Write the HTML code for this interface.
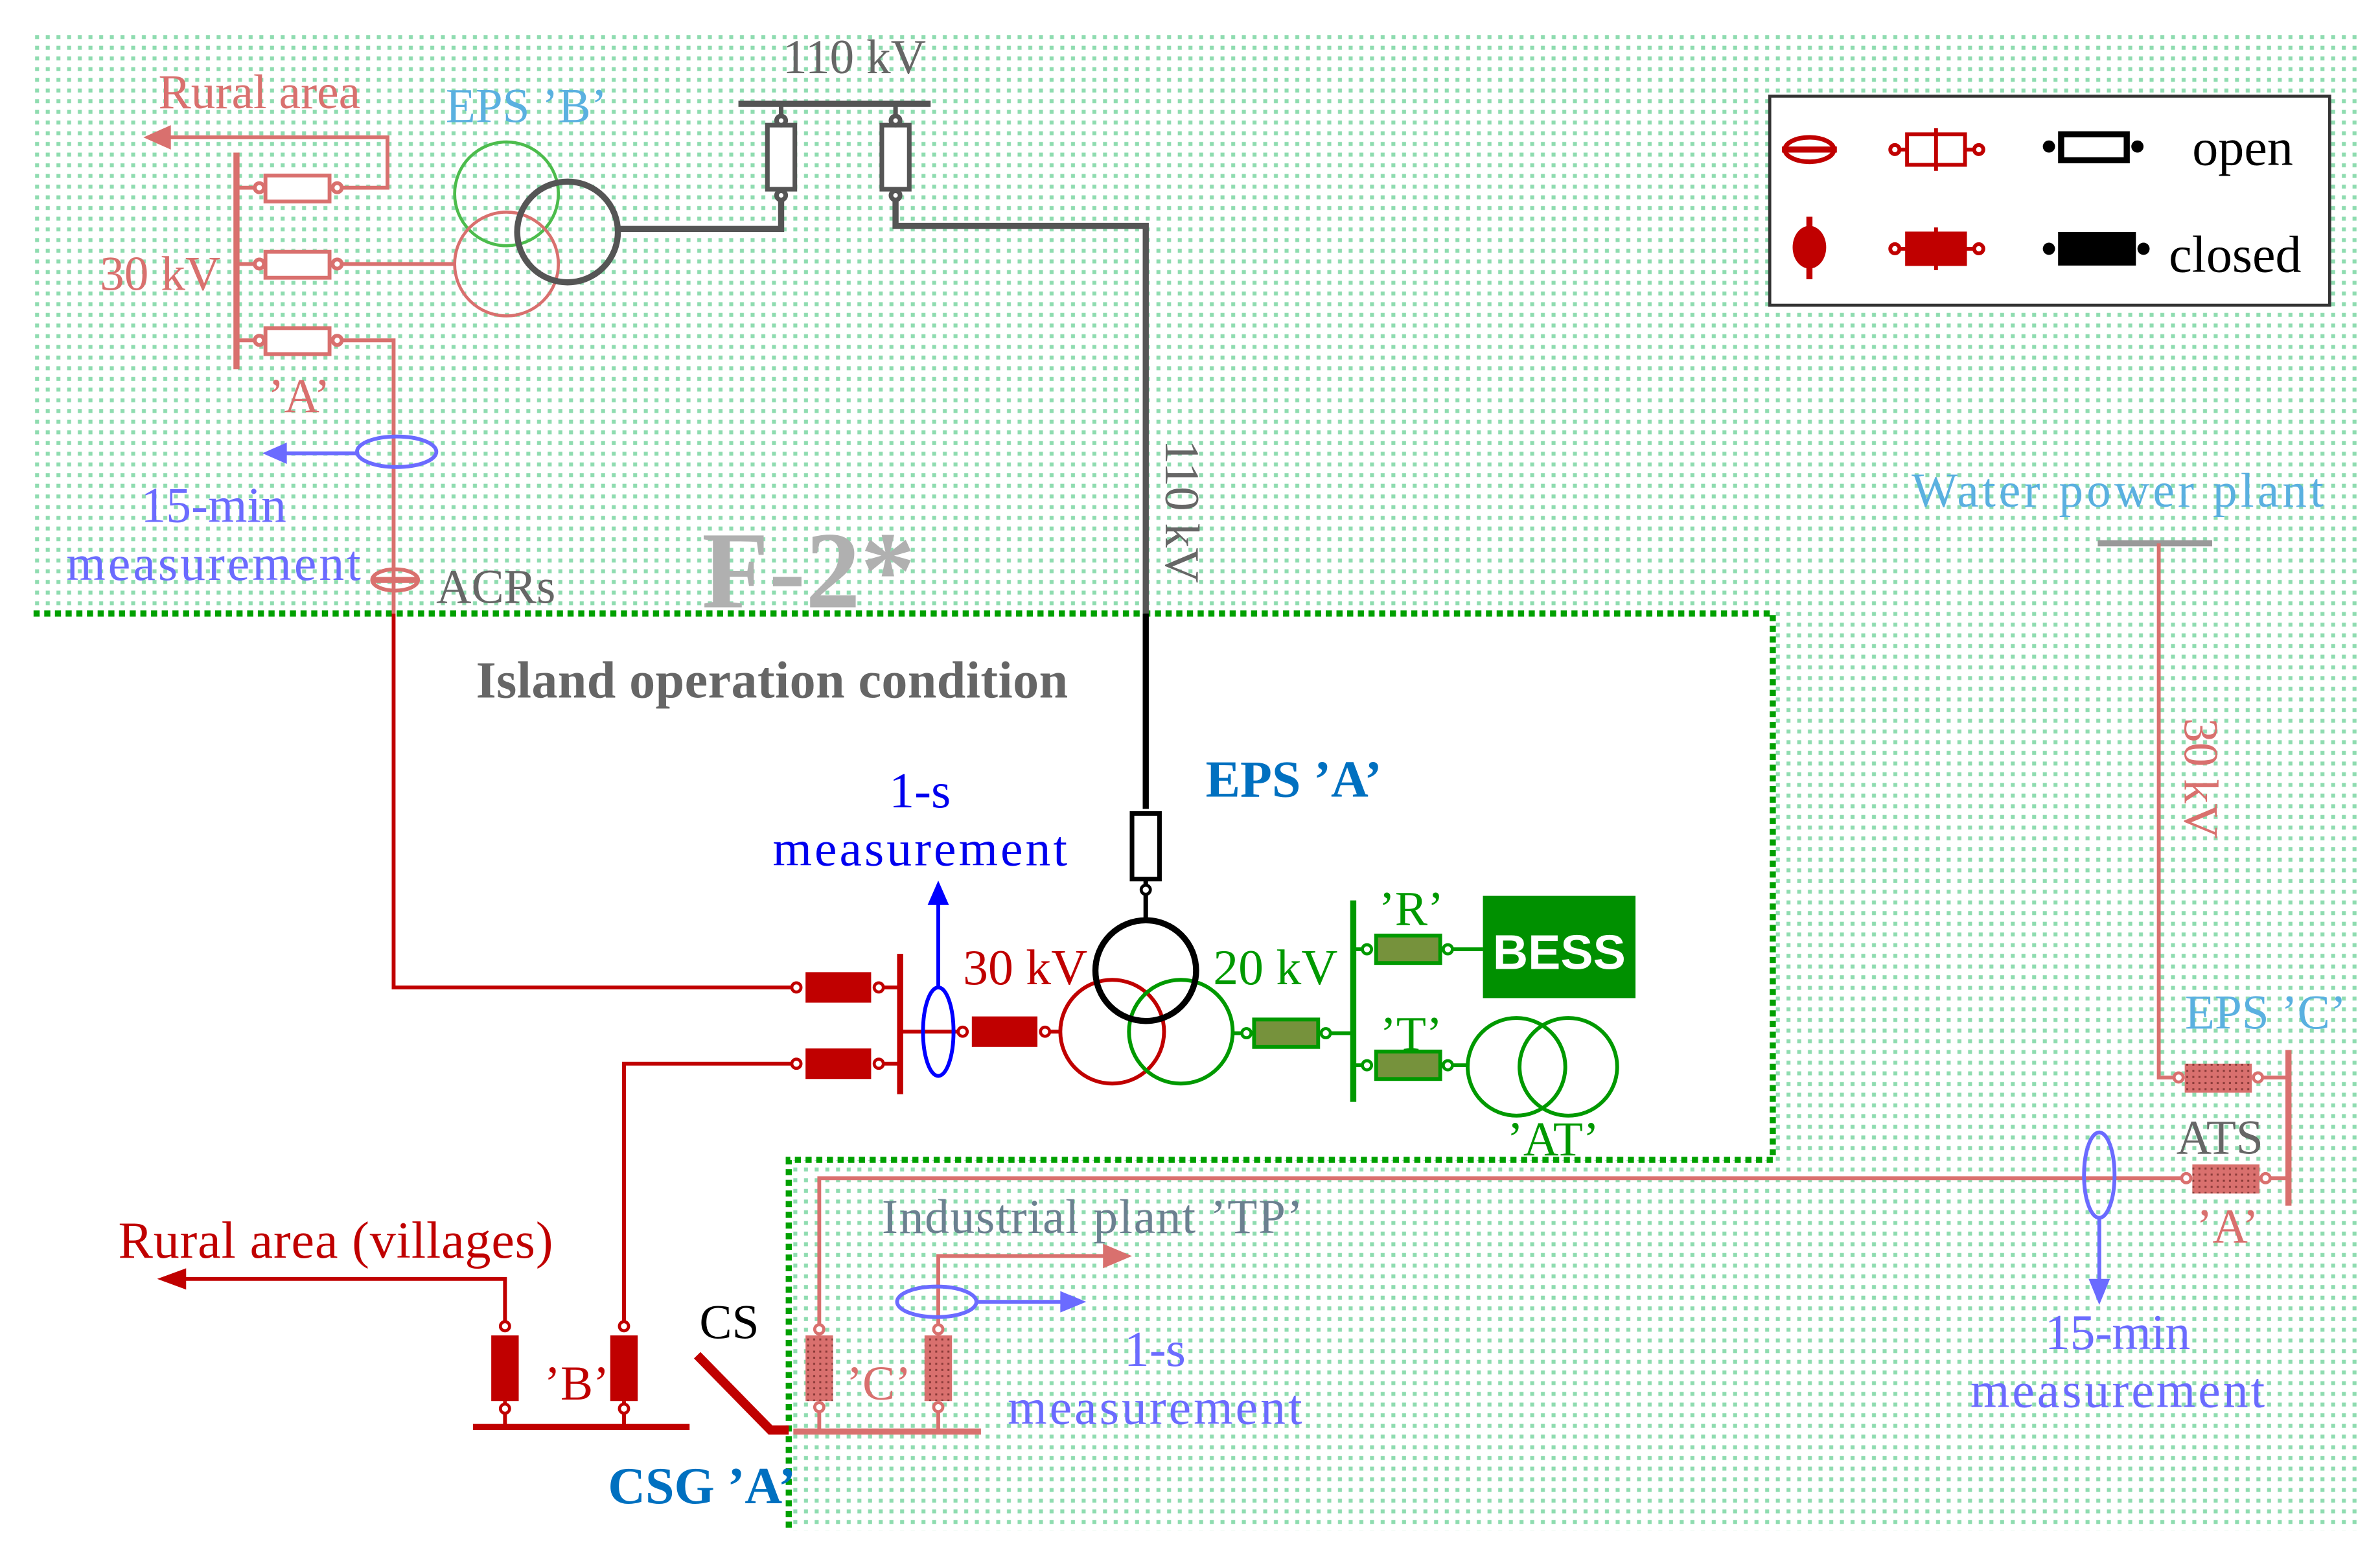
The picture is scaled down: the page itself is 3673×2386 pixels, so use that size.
<!DOCTYPE html>
<html><head><meta charset="utf-8"><style>
html,body{margin:0;padding:0;background:#fff;}
svg{display:block;}
text{font-family:"Liberation Serif",serif;}
</style></head><body>
<svg width="3673" height="2386" viewBox="0 0 1560 1013" preserveAspectRatio="none" xmlns="http://www.w3.org/2000/svg">
<defs>
<pattern id="dots" x="0" y="0" width="7" height="7" patternUnits="userSpaceOnUse">
<rect x="2" y="2" width="2.6" height="2.6" fill="#8fdcb0"/>
</pattern>
<pattern id="rdots" x="0" y="0" width="4" height="4" patternUnits="userSpaceOnUse">
<rect width="4" height="4" fill="#d9706e"/><rect x="1" y="1" width="1.3" height="1.3" fill="#8a3a38"/>
</pattern>
</defs>
<rect width="1560" height="1013" fill="#fff"/>
<path fill="url(#dots)" fill-rule="evenodd" d="M22 20 H1548 V1003 H22 Z M22 402 H1162 V760 H517 V1003 H22 Z"/>
<path d="M22 402 H1162 V760 H517 V1003" fill="none" stroke="#00a000" stroke-width="4" stroke-dasharray="4 3"/>

<line x1="484" y1="68" x2="610" y2="68" stroke="#555" stroke-width="4"/>
<text x="560" y="48" font-size="32" fill="#666" text-anchor="middle">110 kV</text>
<g stroke="#555" stroke-width="3" fill="none">
<line x1="512" y1="68" x2="512" y2="78"/><line x1="587" y1="68" x2="587" y2="78"/>
<rect x="503" y="82" width="18" height="42" fill="#fff"/><rect x="578" y="82" width="18" height="42" fill="#fff"/>
<circle cx="512" cy="79" r="3" fill="#fff"/><circle cx="512" cy="128" r="3" fill="#fff"/>
<circle cx="587" cy="79" r="3" fill="#fff"/><circle cx="587" cy="128" r="3" fill="#fff"/>
<polyline points="512,131 512,150 405,150" stroke-width="4"/>
<polyline points="587,131 587,148 751,148 751,402" stroke-width="4"/>
</g>
<line x1="751" y1="402" x2="751" y2="530" stroke="#000" stroke-width="4"/>
<text transform="translate(764,335) rotate(90)" font-size="32" fill="#666" text-anchor="middle">110 kV</text>

<text x="345" y="80" font-size="32" fill="#5ab0e0" text-anchor="middle">EPS ’B’</text>
<circle cx="332" cy="127" r="34" fill="none" stroke="#4cbc4c" stroke-width="2"/>
<circle cx="332" cy="173" r="34" fill="none" stroke="#d9706e" stroke-width="2"/>
<circle cx="372" cy="152" r="33" fill="none" stroke="#555" stroke-width="4"/>

<g stroke="#d9706e" stroke-width="2.5" fill="none">
<line x1="155" y1="100" x2="155" y2="242" stroke-width="4"/>
<line x1="155" y1="123" x2="167" y2="123"/><line x1="155" y1="173" x2="167" y2="173"/><line x1="155" y1="223" x2="167" y2="223"/>
<rect x="174" y="115" width="42" height="17" fill="#fff"/>
<rect x="174" y="165" width="42" height="17" fill="#fff"/>
<rect x="174" y="215" width="42" height="17" fill="#fff"/>
<circle cx="170" cy="123" r="3" fill="#fff"/><circle cx="221" cy="123" r="3" fill="#fff"/>
<circle cx="170" cy="173" r="3" fill="#fff"/><circle cx="221" cy="173" r="3" fill="#fff"/>
<circle cx="170" cy="223" r="3" fill="#fff"/><circle cx="221" cy="223" r="3" fill="#fff"/>
<polyline points="224,123 254,123 254,90 110,90"/>
<line x1="224" y1="173" x2="298" y2="173"/>
<polyline points="224,223 258,223 258,402"/>
</g>
<polygon points="94,90 112,82 112,98" fill="#d9706e"/>
<text x="170" y="71" font-size="32" fill="#d9706e" text-anchor="middle">Rural area</text>
<text x="105" y="190" font-size="32" fill="#d9706e" text-anchor="middle">30 kV</text>
<text x="196" y="270" font-size="32" fill="#d9706e" text-anchor="middle">’A’</text>
<ellipse cx="260" cy="296" rx="26" ry="10" fill="none" stroke="#6b6bff" stroke-width="2.5"/>
<line x1="234" y1="297" x2="185" y2="297" stroke="#6b6bff" stroke-width="2.5"/>
<polygon points="172,297 188,290 188,304" fill="#6b6bff"/>
<text x="140" y="342" font-size="33" fill="#6b6bff" text-anchor="middle">15-min</text>
<text x="140" y="380" font-size="33" fill="#6b6bff" text-anchor="middle" textLength="193">measurement</text>
<ellipse cx="259" cy="380" rx="15" ry="7" fill="none" stroke="#d9706e" stroke-width="2.5"/>
<line x1="244" y1="380" x2="274" y2="380" stroke="#d9706e" stroke-width="4"/>
<text x="325" y="395" font-size="32" fill="#666" text-anchor="middle">ACRs</text>
<text x="530" y="398" font-size="72" font-weight="bold" fill="#b0b0b0" text-anchor="middle">F-2*</text>
<text x="506" y="457" font-size="34" font-weight="bold" fill="#666" text-anchor="middle" textLength="388">Island operation condition</text>

<text x="848" y="522" font-size="34" font-weight="bold" fill="#0070c0" text-anchor="middle">EPS ’A’</text>
<rect x="742" y="533" width="18" height="43" fill="#fff" stroke="#000" stroke-width="3"/>
<line x1="751" y1="576" x2="751" y2="603" stroke="#000" stroke-width="3"/>
<circle cx="751" cy="583" r="3" fill="#fff" stroke="#000" stroke-width="2"/>
<circle cx="729" cy="676" r="34" fill="none" stroke="#c00000" stroke-width="2.5"/>
<circle cx="774" cy="676" r="34" fill="none" stroke="#009900" stroke-width="2.5"/>
<circle cx="751" cy="636" r="33" fill="none" stroke="#000" stroke-width="4"/>

<g stroke="#c00000" stroke-width="2.5" fill="none">
<polyline points="258,402 258,647 519,647"/>
<polyline points="409,866 409,697 519,697"/>
<line x1="590" y1="625" x2="590" y2="717" stroke-width="4"/>
<line x1="579" y1="647" x2="590" y2="647"/><line x1="579" y1="697" x2="590" y2="697"/>
<line x1="590" y1="676" x2="633" y2="676"/><line x1="683" y1="676" x2="695" y2="676"/>
</g>
<rect x="528" y="637" width="43" height="20" fill="#c00000"/>
<rect x="528" y="687" width="43" height="20" fill="#c00000"/>
<rect x="637" y="666" width="43" height="20" fill="#c00000"/>
<g fill="#fff" stroke="#c00000" stroke-width="2">
<circle cx="522" cy="647" r="3"/><circle cx="576" cy="647" r="3"/>
<circle cx="522" cy="697" r="3"/><circle cx="576" cy="697" r="3"/>
<circle cx="631" cy="676" r="3"/><circle cx="685" cy="676" r="3"/>
</g>
<ellipse cx="615" cy="676" rx="10" ry="29" fill="none" stroke="#0000ff" stroke-width="2.5"/>
<line x1="615" y1="647" x2="615" y2="590" stroke="#0000ff" stroke-width="2.5"/>
<polygon points="615,577 608,593 622,593" fill="#0000ff"/>
<text x="603" y="529" font-size="33" fill="#0000ee" text-anchor="middle">1-s</text>
<text x="603" y="567" font-size="33" fill="#0000ee" text-anchor="middle" textLength="193">measurement</text>
<text x="672" y="645" font-size="33" fill="#c00000" text-anchor="middle">30 kV</text>
<text x="836" y="645" font-size="33" fill="#009900" text-anchor="middle">20 kV</text>

<g stroke="#009900" stroke-width="2.5" fill="none">
<line x1="808" y1="677" x2="818" y2="677"/><line x1="868" y1="677" x2="887" y2="677"/>
<line x1="887" y1="590" x2="887" y2="722" stroke-width="4"/>
<line x1="887" y1="622" x2="893" y2="622"/><line x1="887" y1="698" x2="893" y2="698"/>
<line x1="949" y1="622" x2="972" y2="622"/><line x1="949" y1="698" x2="961" y2="698"/>
</g>
<g fill="#76923c" stroke="#009900" stroke-width="2.5">
<rect x="822" y="668" width="42" height="18"/>
<rect x="902" y="613" width="42" height="18"/>
<rect x="902" y="689" width="42" height="18"/>
</g>
<g fill="#fff" stroke="#009900" stroke-width="2">
<circle cx="817" cy="677" r="3"/><circle cx="869" cy="677" r="3"/>
<circle cx="896" cy="622" r="3"/><circle cx="949" cy="622" r="3"/>
<circle cx="896" cy="698" r="3"/><circle cx="949" cy="698" r="3"/>
</g>
<rect x="972" y="587" width="100" height="67" fill="#009000"/>
<text x="1022" y="635" font-size="32" font-weight="bold" fill="#fff" text-anchor="middle" style="font-family:'Liberation Sans',sans-serif">BESS</text>
<circle cx="994" cy="699" r="32" fill="none" stroke="#009900" stroke-width="2.5"/>
<circle cx="1028" cy="699" r="32" fill="none" stroke="#009900" stroke-width="2.5"/>
<text x="925" y="606" font-size="32" fill="#009900" text-anchor="middle">’R’</text>
<text x="925" y="688" font-size="32" fill="#009900" text-anchor="middle">’T’</text>
<text x="1018" y="757" font-size="32" fill="#009900" text-anchor="middle">’AT’</text>

<text x="220" y="824" font-size="34" fill="#c00000" text-anchor="middle" textLength="285">Rural area (villages)</text>
<g stroke="#c00000" stroke-width="2.5" fill="none">
<polyline points="331,866 331,838 118,838"/>
<line x1="331" y1="918" x2="331" y2="935"/><line x1="409" y1="918" x2="409" y2="935"/>
<line x1="310" y1="935" x2="452" y2="935" stroke-width="4"/>
<polyline points="457,888 505,937 517,937" stroke-width="6"/>
</g>
<polygon points="103,838 122,831 122,845" fill="#c00000"/>
<rect x="322" y="875" width="18" height="43" fill="#c00000"/>
<rect x="400" y="875" width="18" height="43" fill="#c00000"/>
<g fill="#fff" stroke="#c00000" stroke-width="2">
<circle cx="331" cy="869" r="3"/><circle cx="331" cy="923" r="3"/>
<circle cx="409" cy="869" r="3"/><circle cx="409" cy="923" r="3"/>
</g>
<text x="378" y="917" font-size="32" fill="#c00000" text-anchor="middle">’B’</text>
<text x="478" y="877" font-size="32" fill="#000" text-anchor="middle">CS</text>
<text x="460" y="985" font-size="34" font-weight="bold" fill="#0070c0" text-anchor="middle">CSG ’A’</text>

<g stroke="#d9706e" stroke-width="2.5" fill="none">
<line x1="520" y1="938" x2="643" y2="938" stroke-width="4"/>
<polyline points="537,869 537,772 1436,772"/>
<line x1="1478" y1="772" x2="1500" y2="772"/>
<polyline points="615,869 615,823 725,823"/>
<line x1="537" y1="922" x2="537" y2="938"/><line x1="615" y1="922" x2="615" y2="938"/>
</g>
<polygon points="742,823 723,815 723,831" fill="#d9706e"/>
<rect x="528" y="875" width="18" height="43" fill="url(#rdots)"/>
<rect x="606" y="875" width="18" height="43" fill="url(#rdots)"/>
<g fill="#fff" stroke="#d9706e" stroke-width="2">
<circle cx="537" cy="871" r="3"/><circle cx="537" cy="922" r="3"/>
<circle cx="615" cy="871" r="3"/><circle cx="615" cy="922" r="3"/>
</g>
<ellipse cx="614" cy="853" rx="26" ry="10" fill="none" stroke="#6b6bff" stroke-width="2.5"/>
<line x1="640" y1="853" x2="697" y2="853" stroke="#6b6bff" stroke-width="2.5"/>
<polygon points="712,853 695,846 695,860" fill="#6b6bff"/>
<text x="576" y="917" font-size="32" fill="#d9706e" text-anchor="middle">’C’</text>
<text x="716" y="808" font-size="32" fill="#6b8090" text-anchor="middle" textLength="276">Industrial plant ’TP’</text>
<text x="757" y="895" font-size="33" fill="#6b6bff" text-anchor="middle">1-s</text>
<text x="757" y="933" font-size="33" fill="#6b6bff" text-anchor="middle" textLength="193">measurement</text>

<text x="1388" y="332" font-size="32" fill="#5ab0e0" text-anchor="middle" textLength="270">Water power plant</text>
<line x1="1375" y1="356" x2="1450" y2="356" stroke="#999" stroke-width="4"/>
<g stroke="#d9706e" stroke-width="2.5" fill="none">
<polyline points="1415,356 1415,706 1428,706"/>
<line x1="1480" y1="706" x2="1500" y2="706"/>
<line x1="1500" y1="688" x2="1500" y2="790" stroke-width="4"/>
</g>
<rect x="1432" y="697" width="44" height="19" fill="url(#rdots)"/>
<rect x="1437" y="763" width="44" height="19" fill="url(#rdots)"/>
<g fill="#fff" stroke="#d9706e" stroke-width="2">
<circle cx="1428" cy="706" r="3"/><circle cx="1480" cy="706" r="3"/>
<circle cx="1433" cy="772" r="3"/><circle cx="1485" cy="772" r="3"/>
</g>
<text transform="translate(1432,510) rotate(90)" font-size="32" fill="#d9706e" text-anchor="middle">30 kV</text>
<text x="1485" y="674" font-size="32" fill="#5ab0e0" text-anchor="middle">EPS ’C’</text>
<text x="1455" y="756" font-size="32" fill="#666" text-anchor="middle">ATS</text>
<text x="1460" y="814" font-size="32" fill="#d9706e" text-anchor="middle">’A’</text>
<ellipse cx="1376" cy="770" rx="10" ry="28" fill="none" stroke="#6b6bff" stroke-width="2.5"/>
<line x1="1376" y1="798" x2="1376" y2="840" stroke="#6b6bff" stroke-width="2.5"/>
<polygon points="1376,855 1369,838 1383,838" fill="#6b6bff"/>
<text x="1388" y="884" font-size="33" fill="#6b6bff" text-anchor="middle">15-min</text>
<text x="1388" y="922" font-size="33" fill="#6b6bff" text-anchor="middle" textLength="193">measurement</text>

<rect x="1160" y="63" width="367" height="137" fill="#fff" stroke="#333" stroke-width="2"/>
<ellipse cx="1186" cy="98" rx="16" ry="8" fill="none" stroke="#c00000" stroke-width="3"/>
<line x1="1168" y1="98" x2="1204" y2="98" stroke="#c00000" stroke-width="4"/>
<ellipse cx="1186" cy="162" rx="11" ry="14" fill="#c00000"/>
<line x1="1186" y1="142" x2="1186" y2="183" stroke="#c00000" stroke-width="4"/>
<g stroke="#c00000" stroke-width="2.5">
<rect x="1250" y="88" width="38" height="20" fill="#fff"/>
<line x1="1269" y1="84" x2="1269" y2="112"/>
<line x1="1242" y1="98" x2="1250" y2="98"/><line x1="1288" y1="98" x2="1296" y2="98"/>
<circle cx="1242" cy="98" r="3" fill="#fff"/><circle cx="1297" cy="98" r="3" fill="#fff"/>
<rect x="1250" y="153" width="38" height="20" fill="#c00000"/>
<line x1="1269" y1="149" x2="1269" y2="177"/>
<line x1="1242" y1="163" x2="1250" y2="163"/><line x1="1288" y1="163" x2="1296" y2="163"/>
<circle cx="1242" cy="163" r="3" fill="#fff"/><circle cx="1297" cy="163" r="3" fill="#fff"/>
</g>
<g stroke="#000" stroke-width="4">
<rect x="1351" y="88" width="43" height="17" fill="#fff"/>
<rect x="1351" y="154" width="47" height="18" fill="#000"/>
</g>
<g fill="#000"><circle cx="1343" cy="96" r="4"/><circle cx="1401" cy="96" r="4"/>
<circle cx="1343" cy="163" r="4"/><circle cx="1405" cy="163" r="4"/></g>
<text x="1470" y="108" font-size="34" fill="#000" text-anchor="middle">open</text>
<text x="1465" y="178" font-size="34" fill="#000" text-anchor="middle">closed</text>
</svg>
</body></html>
